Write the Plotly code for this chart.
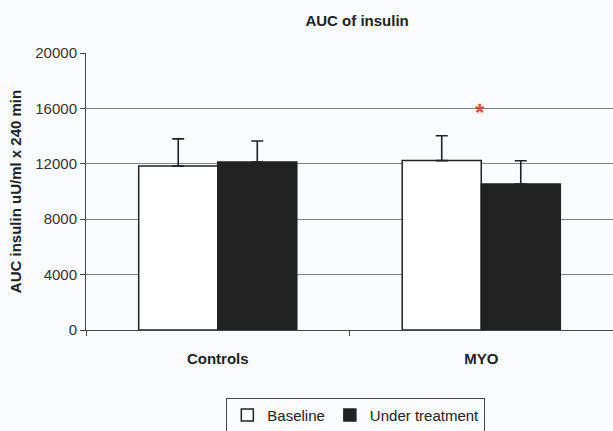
import plotly.graph_objects as go

categories = ["Controls", "MYO"]
baseline = [11850, 12230]
baseline_err = [1950, 1800]
treatment = [12130, 10540]
treatment_err = [1520, 1680]
yticks = [0, 4000, 8000, 12000, 16000, 20000]
ytick_labels = ["0", "4000", "8000", "12000", "16000", "20000"]
star_pos = ("MYO", 15700)

dark = "#222222"
fig = go.Figure()
fig.add_trace(go.Bar(
    x=categories, y=baseline, name="Baseline",
    marker=dict(color="white", line=dict(color=dark, width=1.5)),
    error_y=dict(type="data", symmetric=False, array=baseline_err,
                 arrayminus=[0, 0], color=dark, thickness=1.6, width=6),
))
fig.add_trace(go.Bar(
    x=categories, y=treatment, name="Under treatment",
    marker=dict(color=dark, line=dict(color=dark, width=1.5)),
    error_y=dict(type="data", symmetric=False, array=treatment_err,
                 arrayminus=[0, 0], color=dark, thickness=1.6, width=6),
))
fig.add_annotation(x=star_pos[0], y=star_pos[1], text="<b>*</b>", showarrow=False,
                   xshift=-1, font=dict(size=24, color="#f0452f"), yanchor="middle")

fig.update_layout(
    width=613, height=431,
    margin=dict(l=86, r=0, t=53, b=101, autoexpand=False),
    paper_bgcolor="#fbfcfe", plot_bgcolor="#fbfcfe",
    font=dict(family="Liberation Sans, Arial, sans-serif", size=15, color="#333333"),
    title=dict(text="<b>AUC of insulin</b>", x=0.5825, xanchor="center", y=0.952,
               yanchor="middle", font=dict(size=15, color="#222222")),
    barmode="group", bargap=0.4, bargroupgap=0,
    showlegend=True,
    legend=dict(orientation="h", x=0.512, xanchor="center", y=-0.245, yanchor="top",
                bordercolor="#444444", borderwidth=1, bgcolor="#fbfcfe",
                font=dict(size=15, color="#222222"), itemwidth=30),
    xaxis=dict(type="category", range=[-0.5, 1.5], tickson="boundaries",
               ticks="outside", ticklen=5, tickcolor="#444444",
               showline=True, linecolor="#444444", linewidth=1,
               tickfont=dict(size=15, color="#222222"), ticklabelstandoff=15,
               ticktext=["<b>Controls</b>", "<b>MYO</b>"], tickvals=categories,
               showgrid=False, automargin=False),
    yaxis=dict(range=[0, 20000], tickvals=yticks, ticktext=ytick_labels,
               ticks="outside", ticklen=5,
               tickcolor="#444444", showline=True, linecolor="#444444", linewidth=1,
               showgrid=True, gridcolor="#858585", gridwidth=1, zeroline=False,
               tickfont=dict(size=15, color="#333333"), automargin=False,
               title=dict(text="<b>AUC insulin uU/ml x 240 min</b>",
                          font=dict(size=15, color="#222222"), standoff=10)),
)
post = ("document.body.style.margin='0';document.body.style.overflow='hidden';"
        "Plotly.relayout(document.getElementById('{plot_id}'),{width:613,height:431});")
fig.write_html("out.html", post_script=post, config={"displayModeBar": False})
